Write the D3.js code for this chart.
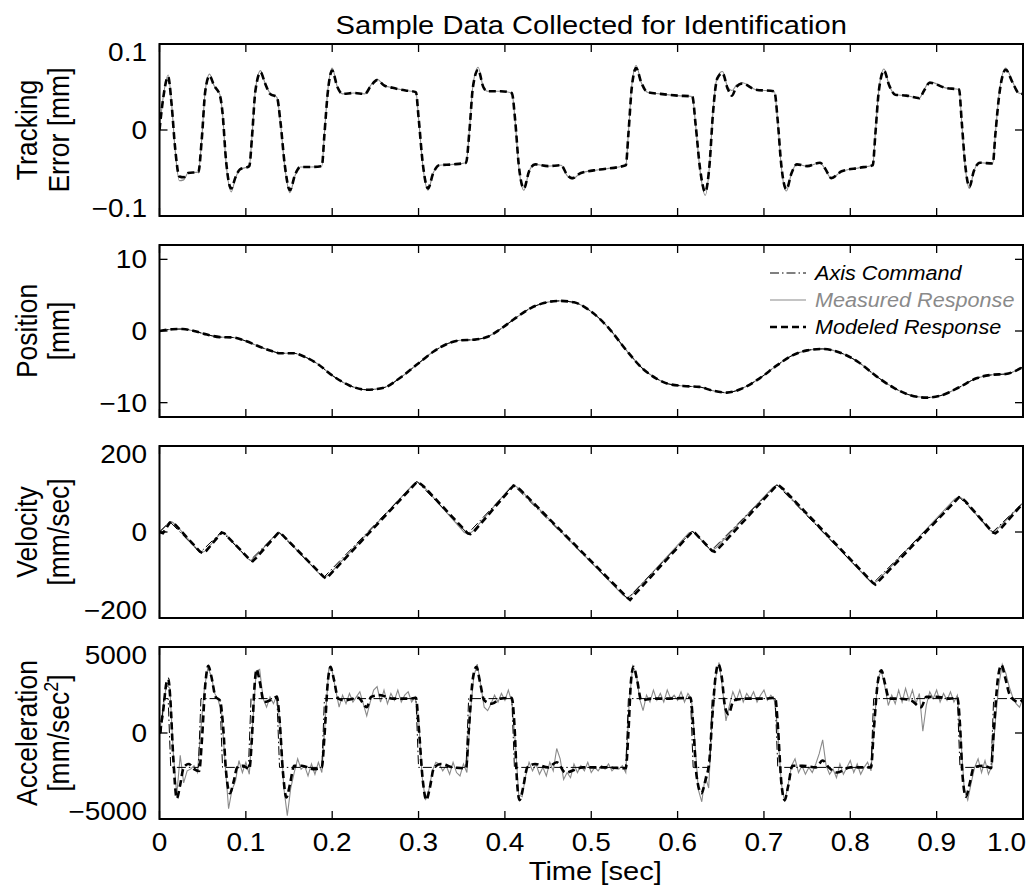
<!DOCTYPE html>
<html>
<head>
  <meta charset="utf-8">
  <title>Sample Data Collected for Identification</title>
  <script src="https://d3js.org/d3.v7.min.js"></script>
  <style>
    body { margin: 0; background: #fff; }
    svg { display: block; font-family: "Liberation Sans", Arial, Helvetica, sans-serif; }
    .frame { fill: none; stroke: #000; stroke-width: 2px; }
    .tick { stroke: #000; stroke-width: 1.3px; }
    .measured { fill: none; stroke: #8a8a8a; stroke-width: 1.1px; }
    .command { fill: none; stroke: #000; stroke-width: 1px; stroke-dasharray: 9,3,1.5,3; }
    .modeled { fill: none; stroke: #000; stroke-width: 2.6px; stroke-dasharray: 7,4; }
  </style>
</head>
<body>
  <script>
    // ---- data ----
    var timeTicks = [0, 0.1, 0.2, 0.3, 0.4, 0.5, 0.6, 0.7, 0.8, 0.9, 1.0];
    var timeTickLabels = ["0", "0.1", "0.2", "0.3", "0.4", "0.5", "0.6", "0.7", "0.8", "0.9", "1.0"];

    // tracking error [mm]
    var errT = [0, 0.004, 0.010, 0.014, 0.018, 0.023, 0.028, 0.033, 0.045, 0.049, 0.053, 0.058, 0.063, 0.07, 0.073, 0.077, 0.083, 0.088, 0.093, 0.104,
      0.107, 0.111, 0.117, 0.122, 0.128, 0.136, 0.140, 0.145, 0.151, 0.157, 0.163, 0.175, 0.188, 0.191, 0.195, 0.200, 0.206, 0.212, 0.225, 0.238,
      0.244, 0.252, 0.26, 0.27, 0.285, 0.297, 0.300, 0.305, 0.311, 0.317, 0.324, 0.34, 0.355, 0.359, 0.363, 0.369, 0.375, 0.38, 0.395, 0.408,
      0.412, 0.416, 0.422, 0.428, 0.435, 0.45, 0.465, 0.472, 0.478, 0.488, 0.51, 0.54, 0.543, 0.547, 0.552, 0.558, 0.565, 0.58, 0.6, 0.617,
      0.621, 0.626, 0.632, 0.637, 0.641, 0.646, 0.652, 0.658, 0.663, 0.668, 0.675, 0.69, 0.712, 0.716, 0.72, 0.726, 0.732, 0.738, 0.75, 0.765,
      0.771, 0.778, 0.79, 0.81, 0.826, 0.829, 0.833, 0.839, 0.845, 0.852, 0.865, 0.88, 0.885, 0.892, 0.91, 0.926, 0.929, 0.933, 0.938, 0.943,
      0.95, 0.965, 0.968, 0.973, 0.98, 0.988, 0.995, 1.0];
    var errModeled = [0, 0.035, 0.062, 0.030, -0.020, -0.054, -0.055, -0.050, -0.049, -0.010, 0.045, 0.063, 0.052, 0.040, 0.020, -0.035, -0.068, -0.055, -0.046, -0.042,
      -0.010, 0.045, 0.067, 0.055, 0.042, 0.038, 0.010, -0.040, -0.070, -0.052, -0.043, -0.043, -0.042, -0.005, 0.045, 0.069, 0.050, 0.042, 0.043, 0.042,
      0.050, 0.058, 0.052, 0.049, 0.046, 0.044, 0.015, -0.040, -0.068, -0.050, -0.041, -0.040, -0.038, 0.000, 0.050, 0.070, 0.050, 0.045, 0.045, 0.043,
      0.010, -0.040, -0.068, -0.048, -0.040, -0.042, -0.041, -0.052, -0.056, -0.050, -0.046, -0.041, -0.005, 0.050, 0.072, 0.055, 0.044, 0.042, 0.040, 0.039,
      0.005, -0.045, -0.072, -0.040, 0.020, 0.060, 0.066, 0.048, 0.040, 0.050, 0.054, 0.047, 0.045, 0.010, -0.040, -0.069, -0.050, -0.040, -0.042, -0.038,
      -0.045, -0.056, -0.048, -0.044, -0.041, -0.005, 0.045, 0.069, 0.052, 0.041, 0.040, 0.037, 0.045, 0.055, 0.049, 0.047, 0.010, -0.040, -0.066, -0.048,
      -0.038, -0.039, -0.005, 0.045, 0.070, 0.055, 0.043, 0.042];
    var errMeasured = [0, 0.036, 0.064, 0.031, -0.022, -0.059, -0.058, -0.050, -0.049, -0.009, 0.046, 0.065, 0.052, 0.041, 0.019, -0.037, -0.072, -0.056, -0.046, -0.042,
      -0.009, 0.046, 0.069, 0.055, 0.043, 0.038, 0.009, -0.042, -0.073, -0.053, -0.043, -0.043, -0.042, -0.004, 0.047, 0.072, 0.050, 0.042, 0.043, 0.042,
      0.051, 0.059, 0.052, 0.049, 0.046, 0.044, 0.014, -0.042, -0.070, -0.050, -0.041, -0.040, -0.038, 0.001, 0.052, 0.073, 0.050, 0.045, 0.045, 0.043,
      0.009, -0.042, -0.070, -0.048, -0.040, -0.042, -0.041, -0.053, -0.057, -0.050, -0.046, -0.041, -0.004, 0.052, 0.075, 0.055, 0.044, 0.042, 0.040, 0.039,
      0.004, -0.047, -0.076, -0.041, 0.021, 0.062, 0.068, 0.050, 0.046, 0.052, 0.055, 0.047, 0.045, 0.009, -0.042, -0.071, -0.050, -0.040, -0.042, -0.038,
      -0.046, -0.056, -0.048, -0.044, -0.041, -0.004, 0.046, 0.071, 0.052, 0.041, 0.040, 0.037, 0.046, 0.056, 0.049, 0.047, 0.009, -0.042, -0.068, -0.048,
      -0.038, -0.039, -0.004, 0.047, 0.072, 0.056, 0.043, 0.042];

    // position [mm]
    var posT = [0, 0.015, 0.027, 0.04, 0.055, 0.07, 0.085, 0.1, 0.116, 0.13, 0.14, 0.155, 0.17, 0.182, 0.2, 0.22, 0.24, 0.26, 0.278, 0.3,
      0.317, 0.335, 0.348, 0.365, 0.38, 0.394, 0.41, 0.43, 0.445, 0.463, 0.48, 0.5, 0.521, 0.54, 0.56, 0.575, 0.59, 0.61, 0.625, 0.64,
      0.657, 0.675, 0.695, 0.715, 0.733, 0.75, 0.768, 0.79, 0.81, 0.83, 0.85, 0.868, 0.888, 0.905, 0.927, 0.946, 0.965, 0.98, 1.0];
    var posCommand = [0, 0.25, 0.28, 0.0, -0.5, -0.85, -0.9, -1.4, -2.2, -2.8, -3.1, -3.1, -3.7, -4.5, -6.2, -7.6, -8.2, -7.9, -6.6, -4.5,
      -2.9, -1.7, -1.3, -1.2, -0.8, 0.2, 1.6, 3.2, 3.9, 4.2, 4.0, 2.7, 0.3, -2.6, -5.3, -6.6, -7.4, -7.7, -7.8, -8.3,
      -8.6, -8.0, -6.6, -4.8, -3.4, -2.7, -2.5, -3.1, -4.4, -6.3, -7.9, -8.9, -9.3, -9.0, -7.8, -6.6, -6.1, -6.0, -5.0];
    var posMeasured = posCommand;
    var posModeled = posCommand;

    // velocity [mm/sec]
    var velCmdT = [0, 0.012, 0.047, 0.072, 0.105, 0.138, 0.19, 0.298, 0.357, 0.41, 0.542, 0.617, 0.639, 0.715, 0.826, 0.926, 0.965, 1.0];
    var velCommand = [0, 24, -48, 1, -66, 0, -106, 118, -4, 109, -155, 2, -43, 110, -120, 82, 0, 68];
    var velMeasT = [0, 0.006, 0.011, 0.015, 0.02, 0.045, 0.049, 0.053, 0.07, 0.074, 0.078, 0.102, 0.106, 0.11, 0.135, 0.139, 0.143, 0.186, 0.191, 0.196,
      0.294, 0.299, 0.304, 0.353, 0.358, 0.363, 0.406, 0.411, 0.416, 0.537, 0.542, 0.547, 0.613, 0.618, 0.622, 0.636, 0.64, 0.645, 0.71, 0.715,
      0.72, 0.822, 0.827, 0.832, 0.921, 0.926, 0.931, 0.961, 0.965, 0.97, 1.0];
    var velMeasured = [0, 12, 22, 23, 14, -43, -48, -44, -5, -2, -8, -62, -66, -60, -5, -2, -8, -99, -105, -100,
      111, 116, 110, -1, -5, 2, 103, 108, 102, -147, -153, -146, -2, 1, -6, -38, -43, -36, 103, 109,
      103, -113, -119, -113, 77, 82, 76, 5, 0, 6, 68];
    var velModT = [0, 0.004, 0.012, 0.016, 0.047, 0.05, 0.054, 0.072, 0.075, 0.105, 0.108, 0.112, 0.138, 0.141, 0.19, 0.193, 0.198, 0.298, 0.301, 0.306,
      0.357, 0.36, 0.365, 0.41, 0.413, 0.418, 0.542, 0.545, 0.55, 0.617, 0.62, 0.64, 0.643, 0.648, 0.715, 0.718, 0.723, 0.826, 0.829, 0.834,
      0.926, 0.929, 0.934, 0.965, 0.968, 0.973, 1.0];
    var velModeled = [0, -3, 22, 22, -46, -49, -44, -1, -3, -65, -68, -60, -1, -4, -104, -108, -98, 116, 114, 106,
      -3, -5, 3, 108, 106, 98, -153, -158, -146, 1, -2, -44, -46, -37, 109, 107, 99, -118, -122, -112,
      81, 79, 70, -1, -3, 5, 67];

    // acceleration [mm/sec^2]
    var accCmdT = [0, 0.002, 0.005, 0.010, 0.013, 0.045, 0.048, 0.070, 0.073, 0.103, 0.106, 0.136, 0.139, 0.188, 0.191, 0.297, 0.300, 0.355, 0.358, 0.408,
      0.411, 0.540, 0.543, 0.615, 0.618, 0.637, 0.640, 0.713, 0.716, 0.824, 0.827, 0.924, 0.927, 0.963, 0.966, 1.0];
    var accCommand = [0, 0, 2000, 2000, -2000, -2000, 2000, 2000, -2000, -2000, 2000, 2000, -2000, -2000, 2000, 2000, -2000, -2000, 2000, 2000,
      -2000, -2000, 2000, 2000, -2000, -2000, 2000, 2000, -2000, -2000, 2000, 2000, -2000, -2000, 2000, 2000];
    var accModT = [0, 0.004, 0.008, 0.0102, 0.0125, 0.016, 0.020, 0.024, 0.028, 0.034, 0.040, 0.046, 0.049, 0.053, 0.0565, 0.060, 0.065, 0.070, 0.0735, 0.077,
      0.0816, 0.086, 0.090, 0.097, 0.104, 0.107, 0.110, 0.1125, 0.116, 0.121, 0.128, 0.136, 0.139, 0.143, 0.147, 0.151, 0.156, 0.165, 0.178, 0.188,
      0.191, 0.195, 0.198, 0.202, 0.207, 0.215, 0.23, 0.24, 0.245, 0.255, 0.27, 0.29, 0.297, 0.300, 0.305, 0.309, 0.313, 0.318, 0.326, 0.34,
      0.355, 0.358, 0.363, 0.367, 0.371, 0.376, 0.385, 0.395, 0.408, 0.411, 0.414, 0.417, 0.421, 0.426, 0.435, 0.45, 0.46, 0.47, 0.49, 0.52,
      0.540, 0.543, 0.546, 0.549, 0.553, 0.558, 0.57, 0.59, 0.615, 0.618, 0.622, 0.6275, 0.632, 0.637, 0.640, 0.644, 0.647, 0.651, 0.655, 0.659,
      0.665, 0.68, 0.70, 0.713, 0.716, 0.72, 0.724, 0.728, 0.733, 0.745, 0.76, 0.768, 0.775, 0.785, 0.80, 0.824, 0.827, 0.832, 0.836, 0.840,
      0.845, 0.855, 0.87, 0.882, 0.888, 0.90, 0.915, 0.924, 0.927, 0.930, 0.934, 0.938, 0.943, 0.955, 0.963, 0.966, 0.971, 0.975, 0.979, 0.984,
      0.99, 0.995, 1.0];
    var accModeled = [0, 1200, 2900, 3150, 2000, -1500, -3800, -3000, -2000, -1800, -2100, -2200, -500, 2800, 3900, 3300, 2100, 1900, 500, -2200,
      -3500, -2800, -2000, -1900, -2100, -300, 2700, 3700, 3000, 1800, 1900, 2100, 800, -2300, -3750, -3000, -1900, -1900, -2100, -2000,
      -200, 3000, 3850, 3100, 2000, 1900, 2050, 1500, 2100, 2200, 2000, 2000, 2050, 500, -2800, -3900, -3200, -2000, -1800, -2000,
      -2050, 0, 3200, 3850, 3000, 1900, 1700, 2000, 2050, 500, -2800, -3900, -3200, -2000, -1800, -2000, -1700, -2300, -2000, -2000,
      -2050, 0, 3000, 3850, 3100, 1900, 2000, 2000, 2050, 500, -2500, -3500, -2800, -1500, 800, 3300, 4000, 3300, 1500, 1100,
      1900, 2000, 2000, 2050, 500, -2800, -3900, -3100, -1900, -1900, -2000, -1600, -2000, -2300, -2000, -2000, 0, 3000, 3650, 2900,
      2000, 2000, 1900, 1500, 2100, 2100, 2000, 2050, 500, -2500, -3700, -3000, -2000, -1900, -2050, 0, 3200, 3950, 3300, 2300,
      1900, 1800, 1950];
    var accSampleStep = 0.004; // measured acceleration is sampled every 4 ms
    var accMeasured = [0, 1400, 2800, 2600, -1200, -3600, -1300, -2900, -2200, -2100, -1900, -2300, 300, 2600, 3800, 3300, 2300, 1900, 1200, -1800,
      -4400, -3300, -2800, -1600, -2300, -1700, -2400, 600, 3600, 3700, 2000, 1500, 2100, 1700, 2200, 300, -3200, -4800, -3200, -2300,
      -1500, -2100, -1900, -2500, -1800, -2400, -1700, -2300, 800, 3700, 3600, 2500, 1500, 2200, 1700, 2300, 1800, 2100, 2400, 1700,
      1000, 1800, 2500, 2700, 1800, 2500, 1700, 2300, 1900, 2500, 1800, 2200, 2400, 1800, 2100, 900, -2500, -3900, -3300, -2200,
      -1700, -1800, -2200, -1900, -2400, -1700, -2300, -2500, -1800, -2300, 1200, 3300, 4000, 2800, 1500, 1300, 1700, 2200, 1800, 2300,
      1900, 2500, 1800, -500, -3600, -3700, -2500, -1700, -2200, -1800, -2400, -2000, -2500, -1700, -2200, -900, -1500, -2700, -2300, -2600,
      -1800, -2300, -1900, -2200, -1700, -2300, -2000, -2200, -1900, -2100, -1800, -2200, -2000, -2100, -1900, -2300, 1800, 3900, 3500, 2000,
      1300, 2200, 1800, 2500, 1900, 2300, 1800, 2500, 2000, 2200, 1900, 2400, 1800, 2300, 2000, -500, -3300, -4000, -2500, -3200,
      800, 3200, 4100, 2600, 700, 1600, 2400, 1900, 2500, 1800, 2300, 2000, 2400, 1800, 2200, 2500, 1900, 2200, 1900, 200,
      -2900, -4000, -3000, -1900, -1500, -2300, -1900, -2400, -2000, -2300, -1800, -1200, -400, -1900, -2400, -2100, -2600, -1800, -2400, -2000,
      -1600, -2300, -1800, -2400, -2000, -1700, -2200, 700, 3200, 3600, 2700, 1600, 2200, 1700, 2500, 1800, 2600, 1900, 2500, 1700,
      2300, 100, 1600, 2400, 2000, 2500, 1800, 2300, 1900, 2400, 1800, 2200, -300, -3300, -3900, -2900, -2000, -1500, -2300, -1600,
      -2400, -1900, 700, 2800, 4000, 3500, 2700, 2100, 1700, 1500, 2000];

    var legendLabels = ["Axis Command", "Measured Response", "Modeled Response"];

    // ---- layout ----
    var W = 1030, H = 892;
    var left = 159.5, right = 1023;
    var panelTops = [44, 245, 446, 647], panelH = 172;
    var fontSize = 25, sx = 1.12;   // the figure is a bit wider than tall

    var svg = d3.select("body").append("svg").attr("width", W).attr("height", H);

    var x = d3.scaleLinear().domain([0, 1.0]).range([left, right]);

    function txt(g, px, py, s, anchor, rot, size, extra) {
      var t = g.append("text")
          .attr("transform", "translate(" + px + "," + py + ") scale(" + sx + ",1)" + (rot ? " rotate(" + rot + ")" : ""))
          .attr("text-anchor", anchor || "middle")
          .attr("font-size", size || fontSize)
          .text(s);
      if (extra) extra(t);
      return t;
    }

    function pts(ts, vs) { return ts.map(function(t, i) { return [t, vs[i]]; }); }

    var panels = [
      { domain: [-0.1, 0.1], ticks: [-0.1, 0, 0.1], labels: ["\u22120.1", "0", "0.1"], ylab: ["Tracking", "Error [mm]"],
        measured: pts(errT, errMeasured), modeled: pts(errT, errModeled), command: null,
        measuredCurve: d3.curveMonotoneX, modeledCurve: d3.curveMonotoneX },
      { domain: [-12, 12], ticks: [-10, 0, 10], labels: ["\u221210", "0", "10"], ylab: ["Position", "[mm]"],
        measured: pts(posT, posMeasured), modeled: pts(posT, posModeled), command: pts(posT, posCommand),
        measuredCurve: d3.curveMonotoneX, modeledCurve: d3.curveMonotoneX, commandCurve: d3.curveMonotoneX },
      { domain: [-200, 200], ticks: [-200, 0, 200], labels: ["\u2212200", "0", "200"], ylab: ["Velocity", "[mm/sec]"],
        measured: pts(velMeasT, velMeasured), modeled: pts(velModT, velModeled), command: pts(velCmdT, velCommand),
        measuredCurve: d3.curveLinear, modeledCurve: d3.curveLinear, commandCurve: d3.curveLinear },
      { domain: [-5000, 5000], ticks: [-5000, 0, 5000], labels: ["\u22125000", "0", "5000"], ylab: ["Acceleration", "[mm/sec2]"],
        measured: accMeasured.map(function(v, i) { return [i * accSampleStep, v]; }), modeled: pts(accModT, accModeled), command: pts(accCmdT, accCommand),
        measuredCurve: d3.curveLinear, modeledCurve: d3.curveMonotoneX, commandCurve: d3.curveLinear }
    ];

    panels.forEach(function(p, k) {
      var top = panelTops[k], bottom = top + panelH;
      var y = d3.scaleLinear().domain(p.domain).range([bottom, top]);
      var g = svg.append("g");

      var clipId = "clip" + k;
      g.append("clipPath").attr("id", clipId).append("rect")
          .attr("x", left).attr("y", top).attr("width", right - left).attr("height", panelH);

      var plot = g.append("g").attr("clip-path", "url(#" + clipId + ")");
      function mkLine(curve) {
        return d3.line().curve(curve).x(function(d) { return x(d[0]); }).y(function(d) { return y(d[1]); });
      }

      plot.append("path").datum(p.measured).attr("class", "measured").attr("d", mkLine(p.measuredCurve));
      if (p.command) {
        plot.append("path").datum(p.command).attr("class", "command").attr("d", mkLine(p.commandCurve));
      }
      plot.append("path").datum(p.modeled).attr("class", "modeled").attr("d", mkLine(p.modeledCurve));

      // inward ticks, MATLAB style
      timeTicks.forEach(function(t) {
        g.append("line").attr("class", "tick").attr("x1", x(t)).attr("x2", x(t)).attr("y1", bottom).attr("y2", bottom - 8);
        g.append("line").attr("class", "tick").attr("x1", x(t)).attr("x2", x(t)).attr("y1", top).attr("y2", top + 8);
      });
      p.ticks.forEach(function(v, i) {
        var ty = y(v);
        g.append("line").attr("class", "tick").attr("x1", left).attr("x2", left + 8).attr("y1", ty).attr("y2", ty);
        g.append("line").attr("class", "tick").attr("x1", right).attr("x2", right - 8).attr("y1", ty).attr("y2", ty);
        var shift = 0;
        if (Math.abs(ty - top) < 2) shift = 8;
        if (Math.abs(ty - bottom) < 2) shift = -8;
        txt(g, 147, ty + shift + 9, p.labels[i], "end");
      });

      g.append("rect").attr("class", "frame").attr("x", left).attr("y", top).attr("width", right - left).attr("height", panelH);

      // y label, two lines
      var mid = (top + bottom) / 2;
      var ySize = 26.5;
      txt(g, 37, mid, p.ylab[0], "middle", -90, ySize);
      if (k === 3) {
        txt(g, 69, mid, "", "middle", -90, ySize, function(t) {
          t.append("tspan").text("[mm/sec");
          t.append("tspan").attr("font-size", 18).attr("dy", -10).text("2");
          t.append("tspan").attr("dy", 10).text("]");
        });
      } else {
        txt(g, 69, mid, p.ylab[1], "middle", -90, ySize);
      }

      if (k === 3) {
        timeTicks.forEach(function(t, i) {
          var last = i === timeTicks.length - 1;
          txt(g, last ? right + 3 : x(t), bottom + 32, timeTickLabels[i], last ? "end" : "middle");
        });
      }
    });

    // title and x label
    txt(svg, (left + right) / 2, 34, "Sample Data Collected for Identification", "middle", 0, 26);
    txt(svg, (left + right) / 2 + 4, 880, "Time [sec]", "middle", 0, 26);

    // legend in the position panel
    var legendY = [273, 300, 327];
    var legendClass = ["command", "measured", "modeled"];
    var legendColor = ["#000", "#8a8a8a", "#000"];
    var lg = svg.append("g");
    legendLabels.forEach(function(s, i) {
      lg.append("line").attr("class", legendClass[i])
          .attr("x1", 770).attr("x2", 806).attr("y1", legendY[i]).attr("y2", legendY[i]);
      txt(lg, 815, legendY[i] + 7, s, "start", 0, 19.3, function(t) {
        t.attr("font-style", "italic").attr("fill", legendColor[i]);
      });
    });
  </script>
</body>
</html>
